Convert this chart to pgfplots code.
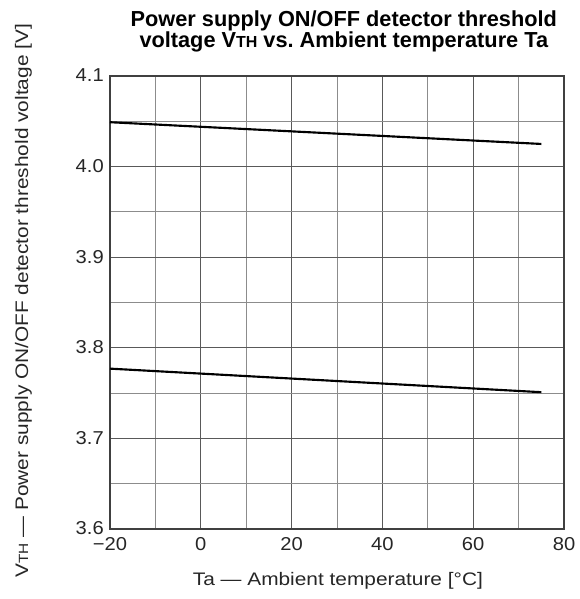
\documentclass[border=0pt]{standalone}
\usepackage{fontspec}
\setmainfont{Liberation Sans}
\newfontfamily\labelfont[FakeStretch=1.15]{Liberation Sans}
\newfontfamily\tickfont[FakeStretch=1.08]{Liberation Sans}
\usepackage{pgfplots}
\pgfplotsset{compat=1.18}
\begin{document}
\begin{tikzpicture}
\path[use as bounding box] (0,0) rectangle (435pt,449.25pt);
\begin{axis}[
  at={(82.5pt,52.5pt)}, anchor=south west,
  scale only axis, width=340.5pt, height=339.75pt,
  xmin=-20, xmax=80, ymin=3.6, ymax=4.1,
  xtick={-20,0,20,40,60,80},
  xticklabels={−20,0,20,40,60,80},
  minor xtick={-10,10,30,50,70},
  ytick={3.6,3.7,3.8,3.9,4.0,4.1},
  yticklabels={3.6,3.7,3.8,3.9,4.0,4.1},
  minor ytick={3.65,3.75,3.85,3.95,4.05},
  grid=both,
  major grid style={draw=black!65, line width=0.6pt},
  minor grid style={draw=black!45, line width=0.6pt},
  axis line style={draw=black!75, line width=1.3pt},
  major tick length=0pt, minor tick length=0pt,
  tick label style={font=\tickfont\fontsize{14}{16}\selectfont, text=black!85},
  xticklabel style={anchor=north, inner sep=0pt, yshift=-6pt},
  yticklabel style={anchor=base east, inner sep=0pt, xshift=-4.5pt, yshift=-4.5pt},
  xlabel={Ta — Ambient temperature [°C]},
  ylabel={V{\fontsize{10}{12}\selectfont TH} — Power supply ON/OFF detector threshold voltage [V]},
  label style={font=\labelfont\fontsize{13.6}{16}\selectfont, text=black!85},
  xlabel style={at={(axis description cs:0.502,-0.1256)}, anchor=base, inner sep=0pt},
  ylabel style={at={(axis description cs:-0.1806,0.504)}, anchor=base, inner sep=0pt},
  title={Power supply ON/OFF detector threshold\\voltage V{\fontsize{12}{12}\selectfont TH} vs.\ Ambient temperature Ta},
  title style={at={(axis description cs:0.515,1.034)}, anchor=south, inner sep=0pt, align=center, font=\fontsize{16.3}{15.75}\selectfont\bfseries},
]
\addplot[black, line width=1.6pt] coordinates {(-20,4.049) (75,4.025)};
\addplot[black, line width=1.6pt] coordinates {(-20,3.777) (75,3.751)};
\end{axis}
\end{tikzpicture}
\end{document}
